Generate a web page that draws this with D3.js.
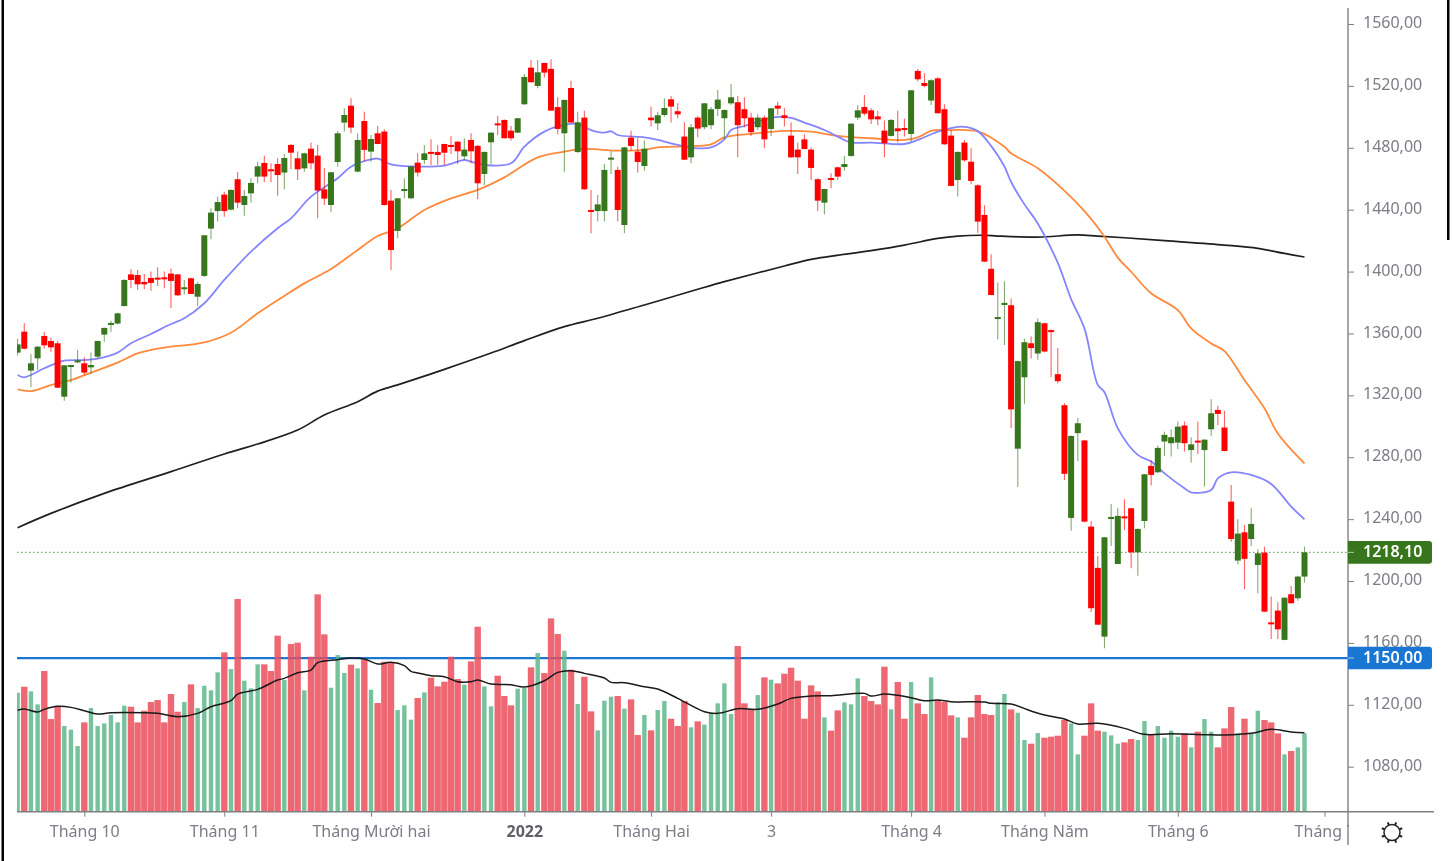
<!DOCTYPE html>
<html>
<head>
<meta charset="utf-8">
<script src="https://cdn.jsdelivr.net/npm/d3@7/dist/d3.min.js"></script>
<style>
html,body{margin:0;padding:0;background:#fff;overflow:hidden}
svg{display:block;filter:blur(0.5px)}
text{font-family:"Noto Sans",sans-serif;font-size:16px;fill:#7b7e87}
</style>
</head>
<body>
<svg id="chart" width="1454" height="861"></svg>
<script>
const opens=[1346.8,1360.3,1335.2,1343.1,1357.5,1354.3,1352.8,1318.4,1338,1340.7,
1339.9,1337.3,1344.2,1358.4,1364.8,1365.5,1376.8,1397.2,1396.8,1392.3,
1394.9,1395.1,1395.3,1397.7,1397.2,1387.8,1394.7,1382.8,1396.2,1426.7,
1438,1448.6,1438.9,1458.5,1441.9,1449.4,1460.2,1469,1464.9,1468.3,
1462.8,1480.6,1472,1465.5,1478.2,1473.7,1452,1441.9,1469.6,1495,
1505.9,1463.4,1496,1476.3,1488.1,1489.2,1444.7,1425.2,1451.2,1446.2,
1469.2,1470.9,1476.1,1476.1,1481.2,1480.6,1482.7,1473.3,1483.8,1480,
1461.9,1482.3,1494.5,1496.7,1489.8,1488.5,1506.8,1530.4,1518.6,1533.4,
1529.6,1505,1488.1,1517.3,1476,1498.2,1438.7,1438,1438,1471.3,
1464.5,1429,1485.3,1476.3,1467,1498.2,1494.5,1499.9,1510,1502.3,
1486,1472.6,1498.2,1492,1493.3,1503.8,1497.8,1507.4,1508.1,1503.6,
1498.2,1492,1498.2,1490.9,1505.9,1499.7,1486.6,1477.6,1484.2,1477.6,
1458.5,1443.4,1459.3,1466.2,1466.4,1473.5,1498.2,1505,1502.9,1499,
1489.8,1486.4,1491.3,1491.5,1487.7,1528.3,1520.5,1509.2,1523.5,1503.6,
1486.6,1458,1482.1,1469.8,1454.6,1435.5,1400.8,1369.1,1377.5,1377.3,
1284.9,1330.9,1352.8,1346.2,1365.7,1361.3,1332.9,1312.9,1240.3,1294.9,
1290.2,1234.7,1208.1,1163.8,1239.8,1210.6,1241.3,1246.5,1218.1,1238.3,
1273.8,1269.7,1289.5,1288.4,1288.8,1299.8,1284,1290.1,1284,1297.4,
1309.9,1298.5,1250.8,1212.8,1231,1226.7,1210,1217.9,1173,1180.6,
1161.7,1191.1,1188.5,1202.5];
const highs=[1355.8,1365.7,1345.9,1351,1360.3,1356.6,1354.3,1338.8,1339,1348.5,
1343.8,1346.8,1354.5,1362.9,1367.4,1372.5,1394,1400.5,1400,1397.5,
1399,1401.8,1399,1401,1397.5,1393.6,1395,1392.5,1422.6,1439.8,
1447.3,1450.5,1452,1463.2,1451.6,1459.1,1469.8,1473.7,1468.8,1472,
1474.8,1481.2,1476.3,1475.6,1482.1,1480.6,1465.5,1463.2,1489.8,1504.2,
1510.7,1488.1,1502,1487,1492.8,1490.7,1451.6,1446.4,1459.1,1467,
1475.2,1480.6,1484.2,1480.6,1481.4,1486.4,1482.9,1484.9,1488.1,1480.6,
1476.4,1488.8,1499.3,1497,1492.8,1498,1526.3,1535.4,1535.4,1533.6,
1535.8,1511.3,1509.8,1522,1502,1502.7,1451.6,1448.4,1468.3,1476.3,
1466.6,1479.4,1489.8,1484.9,1483.4,1505.3,1502,1510.7,1512.2,1507.4,
1495.2,1494.1,1499.3,1507.6,1505,1516,1503.5,1519.9,1512.2,1511.3,
1501.4,1500.3,1499.5,1504.4,1508.5,1504.2,1495.2,1482.1,1487.5,1478.9,
1459.1,1452.4,1462.3,1466.6,1473.5,1494.5,1506.4,1512.8,1504.2,1502.5,
1496.3,1497.3,1502.7,1497.6,1516,1529.6,1526.8,1522.9,1524.2,1506.8,
1490.2,1476.4,1483.8,1478.4,1455.2,1441.7,1410.1,1391.9,1392.8,1381.7,
1341.5,1355.7,1357.3,1368.8,1366,1361.9,1349.7,1314.2,1293.4,1304.7,
1290.6,1238.1,1215.6,1228,1249.3,1246.5,1252.3,1246.7,1233.4,1268.6,
1277.6,1286.9,1295.9,1297.4,1302.4,1302.4,1292.3,1302.4,1291,1316.7,
1312.4,1309.2,1261.5,1239.4,1235.8,1246.5,1220.1,1221.8,1189.6,1186,
1189,1196.4,1203.1,1221.8];
const lows=[1345,1349,1324.4,1335.6,1349.5,1347.4,1324,1315.8,1327.4,1340,
1332.4,1333,1343,1353.8,1360,1365,1376.5,1388.2,1387.2,1387.6,
1386.7,1389.7,1388.2,1375.3,1383.5,1384.3,1384.4,1376.8,1395.5,1419.8,
1431.2,1434.4,1438.3,1439.8,1435,1443.4,1455.9,1456.5,1456.5,1447.9,
1452,1464.9,1458,1463.4,1464.9,1433.3,1441.9,1437.2,1466.6,1489.2,
1488.1,1463,1470.3,1469.8,1481,1441.5,1400,1420.4,1446.2,1446,
1460.2,1468.3,1467.7,1467.7,1467.7,1474.8,1468.1,1470.9,1468.8,1445.6,
1454.8,1468.3,1487,1484.7,1483.4,1488.3,1506.4,1520.8,1517.1,1524,
1502.5,1487.5,1463.4,1494.8,1475.6,1451.8,1423.7,1431.2,1431.2,1461.9,
1431.2,1423.7,1476.9,1462.8,1464,1492.4,1490.3,1498.8,1495,1497.8,
1471,1468.8,1485.5,1490.7,1490.7,1499.3,1484.2,1506.4,1472.6,1492,
1486.4,1490.2,1478.4,1486.4,1499.9,1492.4,1472.4,1461.9,1477.8,1458,
1438,1436,1452.7,1458,1464,1473,1496.7,1499.5,1494.1,1493.3,
1472.6,1486,1482.1,1486,1482.7,1521.4,1517.7,1506.4,1500.8,1480.8,
1454,1447.3,1469.8,1455.2,1424.1,1405.2,1383.7,1355.3,1351.7,1298,
1260.2,1313.8,1343,1342.2,1347,1330.9,1326.9,1264.7,1232,1276.9,
1237.4,1179.7,1171.3,1156.3,1222.2,1210.4,1232.5,1207.8,1203.1,1233.6,
1261.1,1269,1280.2,1279.8,1284.7,1283,1275.9,1281.3,1260.5,1293.3,
1300.2,1283.2,1225,1210.4,1194.5,1222.2,1191.7,1179.7,1162.3,1162.3,
1161.5,1185.1,1187,1198.6];
const closes=[1352.1,1349.3,1339.9,1350.6,1351.5,1350.2,1324.2,1338.6,1338.8,1341.8,
1333.9,1338.8,1354.3,1362.7,1365.9,1372.1,1393.6,1393.6,1390.8,1390.8,
1391.7,1394.5,1394.5,1393,1383.7,1388.9,1384.6,1391,1422.4,1437,
1443.8,1438,1451.6,1443.4,1447.7,1456.1,1466.8,1460.2,1464.3,1461.2,
1472.2,1475.6,1464.9,1475.2,1468.8,1451.2,1446,1463,1488.1,1499.9,
1491.8,1483.8,1477.4,1484.4,1481.2,1441.9,1412.9,1446.2,1452.2,1466.8,
1462.8,1475.2,1475,1474.1,1475.6,1479.3,1476.5,1477.6,1476.5,1455.9,
1476.1,1488.5,1493.3,1484.9,1484.9,1497.8,1524.4,1521,1527.4,1527.2,
1502.7,1490.9,1509.6,1495,1495.2,1452,1438,1442.3,1464.5,1472.4,
1438.7,1479,1479.9,1469.6,1478.2,1496.5,1499.7,1504.4,1505.3,1500.3,
1471.1,1492,1491.1,1507.4,1503.6,1509.8,1503.1,1511.3,1493.3,1497.8,
1488.8,1498.2,1484.2,1504.2,1504,1498,1472.6,1472.6,1478,1465.8,
1444.7,1452.2,1458,1460.2,1468.3,1494.3,1502.9,1500.8,1497.1,1497.1,
1481.7,1496.7,1489.4,1490.9,1515.8,1522.9,1518.6,1522.3,1501,1481,
1454.2,1476.1,1470.7,1457.4,1431.2,1405.4,1383.9,1369.7,1378.8,1310.2,
1341.3,1353.5,1349.7,1366.4,1347.5,1360,1328.4,1268.7,1293.1,1301.3,
1237.9,1182.1,1171.5,1227.8,1240.9,1241.6,1240.7,1218.1,1233.2,1268.4,
1268,1285.4,1293.8,1292.3,1299.1,1288.4,1287.7,1289.2,1290.7,1307.7,
1307.3,1283.4,1226.7,1230.2,1213.9,1236.4,1217.5,1179.9,1172.2,1168.5,
1188.9,1185.3,1202.5,1218.1];
const volumes=[357,375,361,322,422,278,317,257,246,197,
268,311,257,265,290,268,318,315,268,303,
329,335,268,353,300,329,382,311,378,364,
418,478,428,638,393,370,442,442,422,528,
395,503,507,364,465,652,532,372,470,416,
441,430,457,366,326,450,448,305,319,276,
341,358,402,376,390,465,398,381,451,555,
376,316,408,347,319,369,371,433,476,416,
580,533,483,426,323,405,301,244,333,345,
347,309,337,230,290,244,305,332,279,257,
332,253,271,261,296,325,385,293,497,325,
308,350,403,396,385,414,432,393,279,379,
361,283,243,304,328,322,400,347,332,322,
435,307,389,279,389,325,293,403,335,329,
289,283,222,283,350,293,290,328,353,307,
297,215,204,236,222,225,228,275,265,172,
228,325,243,240,229,204,208,218,215,272,
230,257,222,243,225,235,193,240,278,240,
193,250,314,235,279,235,303,275,268,235,
172,182,193,235];
const blueBars=[0,1,4,6,7,10,12,15,17,20,23,25,28,31,35,39,41,44,48,50,53,54,56,59,64,67,68,70,74,76,79,82,84,86,88,89,90,94,96,99,102,104,106,107,109,111,113,116,118,121,124,125,128,133,135,138,140,142,144,146,148,149,151,153,156,158,160,162,163,165,168,170,172,175,176,179,180,182,185,188,191,193];
const blueValues=[1332.4,1330.9,1336.7,1340.3,1341.6,1342,1342.9,1346.8,1352.8,1358.8,1365.2,1368.9,1378.6,1393.6,1411.8,1426.9,1433.3,1447.3,1459.1,1466.6,1471.3,1471.8,1468.1,1466.8,1467.3,1470.9,1469.8,1467.7,1468.8,1479.5,1489.2,1493.5,1494.1,1490.2,1488.5,1489.4,1487,1485.5,1483.8,1480.6,1478.4,1479,1484.2,1490.2,1492.8,1495.6,1498.2,1498,1495,1490.2,1483.8,1482.1,1482.1,1481.2,1483.8,1489.2,1491.5,1492.3,1489.5,1480,1466.7,1456.7,1442.3,1430,1404.6,1381.3,1362.4,1326,1321.3,1298,1280.9,1276.6,1269,1259.4,1256.8,1258.3,1265.8,1269.7,1268,1262.2,1247.6,1239.4];
const orangeBars=[0,2,5,8,11,15,18,22,28,32,36,40,43,47,51,54,57,61,65,69,73,78,82,85,90,94,96,100,104,106,110,115,119,123,128,133,135,137,140,144,148,149,153,156,160,163,165,167,170,174,176,179,181,184,187,189,193];
const orangeValues=[1323.1,1322,1325.9,1329.1,1333.9,1340.3,1346.3,1350,1353.4,1359.6,1372.1,1383.3,1391.4,1400.7,1412.9,1421.9,1426.9,1438.7,1446.2,1451.6,1459.7,1472.6,1476.3,1478,1476.9,1477.4,1479,1479.7,1481,1485.5,1487.7,1489.6,1489.2,1486.4,1484.9,1483.8,1485.5,1489.6,1490.2,1489.3,1479.4,1475.2,1465.6,1455,1437.9,1421.5,1408,1398.9,1385,1374.2,1362.4,1352.7,1347.8,1329.1,1310.9,1294.7,1275.4];
const blackBars=[0,5,13,23,31,36,42,46,51,54,57,64,71,76,82,87,94,102,106,115,119,128,133,138,141,145,147,153,159,162,166,172,181,186,190,193];
const blackValues=[1234,1243.2,1256.1,1270.1,1281.5,1287.9,1296.9,1306.6,1315.2,1322,1326,1336,1346.5,1354.5,1363.5,1368.9,1377.5,1387.6,1392.5,1402.6,1406.9,1412.5,1416.1,1420.4,1421.9,1422.4,1421.9,1421.2,1422.6,1421.8,1420.8,1418.9,1416.1,1414,1410.7,1408.4];
const volMaBars=[0,1,3,4,6,8,10,12,14,19,21,24,27,29,32,33,36,39,40,42,44,45,48,50,52,54,56,58,59,60,62,64,66,68,69,71,74,76,79,81,83,85,88,89,91,94,96,99,103,105,108,111,114,116,119,122,127,128,130,132,134,136,138,140,145,146,149,152,154,157,159,162,166,169,173,178,181,185,188,191,193];
const volMaValues=[304,308,299,307,316,313,303,293,297,297,295,285,295,315,333,353,367,395,400,417,425,447,456,461,458,443,448,438,421,416,408,405,390,390,395,383,381,374,393,418,423,415,401,388,387,375,368,340,300,295,309,307,323,340,347,348,355,347,353,349,342,333,335,330,329,325,323,302,290,278,263,265,250,232,234,231,230,235,247,239,237];
const priceTicks=[1080,1120,1160,1200,1240,1280,1320,1360,1400,1440,1480,1520,1560];
const timeBars=[10,31,53,76,95,113,134,154,174,196];
const timeLabels=["Tháng 10","Tháng 11","Tháng Mười hai","2022","Tháng Hai","3","Tháng 4","Tháng Năm","Tháng 6","Tháng 7"];
const lastPrice=1218.10;
const alertPrice=1150.00;

const svg=d3.select("#chart");
const x=d3.scaleLinear().domain([0,193]).range([17.6,1304.5]);
const y=d3.scaleLinear().domain([1080,1560]).range([766.7,21.7]);
const yAxisScale=d3.scaleLinear().domain([1080,1560]).range([766.7,24]);
const vBase=811.7;
const v=d3.scaleLinear().domain([0,1000]).range([vBase,vBase-333.33]);
const fmt=d3.formatLocale({decimal:",",thousands:"",grouping:[3],currency:["",""]}).format(".2f");
const idx=d3.range(opens.length);
const RED="#ff0000",GREEN="#38761d";

const defs=svg.append("defs");
defs.append("clipPath").attr("id","plot").append("rect").attr("x",17).attr("y",0).attr("width",1331).attr("height",812);

const plot=svg.append("g").attr("clip-path","url(#plot)");
// reference lines
plot.append("line").attr("x1",17).attr("x2",1348).attr("y1",y(alertPrice)).attr("y2",y(alertPrice)).attr("stroke","#1976d2").attr("stroke-width",2.2);
plot.append("line").attr("x1",17).attr("x2",1348).attr("y1",y(lastPrice)).attr("y2",y(lastPrice)).attr("stroke",GREEN).attr("stroke-width",1).attr("stroke-dasharray","1.5 2.5").attr("opacity",.8);
// volume
plot.append("g").selectAll("rect").data(idx).join("rect")
 .attr("x",i=>x(i)-(closes[i]>=opens[i]?2.2:3.2))
 .attr("width",i=>closes[i]>=opens[i]?4.4:6.4)
 .attr("y",i=>v(volumes[i]))
 .attr("height",i=>vBase-v(volumes[i]))
 .attr("fill",i=>closes[i]>=opens[i]?"#5eb78b":"#eb4d5c")
 .attr("fill-opacity",.85);
// moving averages
function ma(bars,vals,scale,color,w){
 const ln=d3.line().x(d=>x(d[0])).y(d=>scale(d[1])).curve(d3.curveCatmullRom.alpha(0.5));
 plot.append("path").attr("d",ln(bars.map((b,k)=>[b,vals[k]]))).attr("fill","none").attr("stroke",color).attr("stroke-width",w);
}
ma(volMaBars,volMaValues,v,"#1a1a1a",1.5);
ma(blackBars,blackValues,y,"#1f1f1f",1.7);
ma(orangeBars,orangeValues,y,"#ff8a3c",1.8);
ma(blueBars,blueValues,y,"#8585ff",1.8);
// candles
const c=plot.append("g").selectAll("g").data(idx).join("g");
c.append("line").attr("x1",i=>x(i)).attr("x2",i=>x(i)).attr("y1",i=>y(highs[i])).attr("y2",i=>y(lows[i]))
 .attr("stroke",i=>closes[i]>=opens[i]?GREEN:RED).attr("stroke-width",1.1).attr("opacity",.62);
c.append("rect").attr("x",i=>x(i)-3).attr("width",6)
 .attr("y",i=>y(Math.max(opens[i],closes[i])))
 .attr("height",i=>Math.max(2,Math.abs(y(opens[i])-y(closes[i]))))
 .attr("fill",i=>closes[i]>=opens[i]?GREEN:RED);

// price axis
const pa=svg.append("g").attr("transform","translate(1348,0)")
 .call(d3.axisRight(yAxisScale).tickValues(priceTicks).tickFormat(fmt).tickSize(6).tickPadding(9));
pa.select(".domain").remove();
pa.selectAll(".tick line").attr("stroke","#808080");
pa.selectAll(".tick text").attr("fill",null).attr("y",-1.5);
svg.append("line").attr("x1",1348).attr("x2",1348).attr("y1",8).attr("y2",845).attr("stroke","#808080").attr("stroke-width",1.4);

// time axis
const ta=svg.append("g").attr("transform",`translate(0,${vBase})`)
 .call(d3.axisBottom(x).tickValues(timeBars).tickFormat((d,k)=>timeLabels[k]).tickSize(5).tickPadding(8));
ta.select(".domain").remove();
ta.selectAll(".tick line").attr("stroke","#808080");
ta.selectAll(".tick text").attr("fill",null).attr("dy",".6em").attr("y",16)
 .style("font-weight",(d,k)=>timeLabels[k]==="2022"?"700":"400")
 .style("fill",(d,k)=>timeLabels[k]==="2022"?"#5f6168":null);
svg.append("line").attr("x1",17).attr("x2",1434).attr("y1",vBase).attr("y2",vBase).attr("stroke","#808080").attr("stroke-width",1.4);
// mask the part of the cut-off last label past the price axis
svg.append("rect").attr("x",1349).attr("y",813).attr("width",30).attr("height",40).attr("fill","#fff");

// last value and alert labels
function tag(val,color){
 const g=svg.append("g");
 const yy=y(val);
 g.append("path").attr("d",`M1348,${yy-11.3}H1429a3,3 0 0 1 3,3V${yy+8.3}a3,3 0 0 1 -3,3H1348Z`).attr("fill",color);
 g.append("line").attr("x1",1348).attr("x2",1354).attr("y1",yy).attr("y2",yy).attr("stroke","#fff").attr("opacity",.6);
 g.append("text").attr("x",1363).attr("y",yy-0.5).attr("dy",".35em").text(fmt(val)).style("fill","#fff").style("font-weight","600");
}
tag(lastPrice,"#38761d");
tag(alertPrice,"#1976d2");

// settings gear
const gear=svg.append("g").attr("transform","translate(1392,832.5)").attr("stroke","#222").attr("fill","none");
gear.append("circle").attr("r",8).attr("stroke-width",1.5);
gear.selectAll("line").data(d3.range(8)).join("line")
 .attr("x1",d=>8*Math.cos(d*Math.PI/4+Math.PI/8)).attr("y1",d=>8*Math.sin(d*Math.PI/4+Math.PI/8))
 .attr("x2",d=>11*Math.cos(d*Math.PI/4+Math.PI/8)).attr("y2",d=>11*Math.sin(d*Math.PI/4+Math.PI/8))
 .attr("stroke-width",2);

// screenshot frame
svg.append("rect").attr("x",1.5).attr("y",0).attr("width",2.5).attr("height",861).attr("fill","#000");
svg.append("rect").attr("x",1447).attr("y",0).attr("width",2.5).attr("height",240).attr("fill","#000");
</script>
</body>
</html>
